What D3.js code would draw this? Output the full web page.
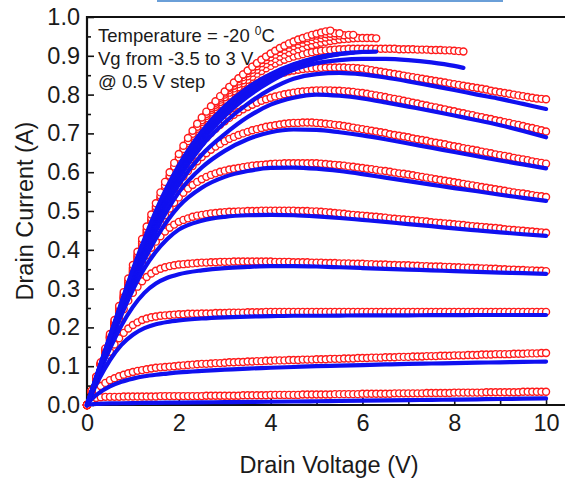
<!DOCTYPE html>
<html><head><meta charset="utf-8">
<script src="https://cdn.jsdelivr.net/npm/d3@7/dist/d3.min.js"></script>
<style>
html,body{margin:0;padding:0;background:#fff;}
svg{display:block;}
text{font-family:"Liberation Sans",Arial,Helvetica,sans-serif;fill:#1a1a1a;}
</style></head><body>
<svg id="chart" width="565" height="478"></svg>
<script>
// ---------------- DATA ----------------
// Gate voltages (V), lowest to highest
const vgValues = [-3.5,-3,-2.5,-2,-1.5,-1,-0.5,0,0.5,1,1.5,2,2.5,3];
// Measured sweep: drain voltage from 0 V in 0.1 V steps; drain current in mA
const VD_STEP = 0.1;
const measVgM3_5 = [0,12,18,20,21,21,21,21,22,22,22,
22,22,22,22,22,23,23,23,23,23,
23,23,23,23,23,24,24,24,24,24,
24,24,24,25,25,25,25,25,25,26,
26,26,26,26,26,26,27,27,27,27,
27,27,27,28,28,28,28,28,28,29,
29,29,29,29,29,29,30,30,30,30,
30,30,30,31,31,31,31,31,31,32,
32,32,32,32,32,32,33,33,33,33,
33,33,33,33,34,34,34,34,34,34];
const measVgM3 = [0,22,38,49,57,64,69,74,78,82,85,
88,90,92,94,96,97,98,99,100,101,
102,103,104,105,106,106,107,108,108,109,
110,110,111,111,112,112,113,113,114,114,
115,115,115,116,116,116,117,117,117,118,
118,118,119,119,119,120,120,120,121,121,
121,122,122,122,123,123,123,124,124,124,
125,125,125,126,126,126,127,127,127,128,
128,128,129,129,129,130,130,130,131,131,
131,131,132,132,132,133,133,133,134,134];
const measVgM2_5 = [0,32,62,90,115,137,156,172,186,197,206,
213,219,223,226,228,230,231,232,233,234,
234,235,235,235,236,236,236,237,237,237,
238,238,238,238,239,239,239,239,240,240,
240,240,240,240,240,240,240,240,240,240,
240,240,240,240,240,240,240,240,240,240,
240,240,240,240,240,240,240,240,240,240,
240,240,240,240,240,240,240,240,240,240,
240,240,240,240,240,240,240,240,240,240,
240,240,240,240,240,240,240,240,240,240];
const measVgM2 = [0,34,68,101,133,165,195,222,247,269,289,
305,319,330,339,346,351,355,358,360,362,
363,364,365,366,367,367,368,368,369,369,
369,370,370,370,370,370,370,370,370,370,
369,369,369,369,368,368,368,368,367,367,
367,366,366,366,365,365,365,364,364,364,
363,363,362,362,362,361,361,360,360,360,
359,359,358,358,357,357,357,356,356,355,
355,354,354,353,353,352,352,351,351,350,
350,349,349,348,348,347,347,346,346,345];
const measVgM1_5 = [0,34,68,102,135,167,199,230,260,288,315,
341,365,386,405,421,435,447,457,465,472,
477,481,485,488,490,492,494,495,496,497,
498,498,499,499,500,500,500,501,501,501,
501,501,501,501,501,500,500,500,499,499,
498,497,496,495,494,493,491,490,489,488,
487,486,485,484,483,481,480,479,478,477,
476,475,474,473,471,470,469,468,467,466,
465,464,462,461,460,459,458,457,456,455,
453,452,451,450,449,448,447,446,445,444];
const measVgM1 = [0,34,69,103,137,170,202,234,265,295,324,
352,379,404,428,450,470,489,506,521,535,
547,558,567,575,582,588,593,597,601,604,
607,609,611,613,615,617,618,619,620,621,
622,622,623,623,623,623,623,623,623,623,
622,621,620,619,618,617,615,614,612,611,
609,608,606,604,603,601,599,597,596,594,
592,590,588,586,584,582,580,578,576,574,
572,570,568,566,564,562,560,558,556,554,
552,550,548,546,545,543,541,539,538,536];
const measVgM0_5 = [0,35,69,104,138,172,205,238,270,302,333,
363,392,420,447,472,495,517,537,556,573,
589,603,616,628,639,649,658,666,673,680,
686,691,696,700,704,708,711,714,717,719,
721,723,725,726,727,727,728,728,728,727,
726,725,724,722,721,719,717,715,713,711,
709,707,705,703,701,698,696,694,692,690,
687,685,683,681,678,676,674,672,669,667,
665,662,660,658,656,653,651,649,646,644,
642,640,637,635,633,631,628,626,624,622];
const measVg0 = [0,35,70,105,139,173,207,240,273,305,337,
368,398,427,455,482,507,531,554,575,595,
614,631,647,662,676,689,701,712,722,731,
740,748,755,762,768,774,779,784,788,792,
795,798,801,803,805,807,808,809,810,811,
811,811,811,810,810,809,808,807,805,804,
802,800,798,796,794,791,789,787,784,782,
779,777,774,772,769,767,764,762,759,757,
754,752,749,747,744,742,739,737,734,732,
729,727,724,722,719,716,714,711,708,705];
const measVgP0_5 = [0,35,70,105,140,174,208,242,275,308,340,
372,403,433,462,490,517,542,566,589,610,
630,649,667,684,700,715,729,742,754,766,
777,787,797,806,814,822,829,835,841,846,
850,854,857,860,862,864,866,867,868,869,
869,870,870,870,870,870,869,869,868,867,
865,863,861,859,857,855,853,851,849,847,
845,843,841,839,837,835,833,831,829,827,
825,823,821,819,817,815,813,810,808,806,
804,802,800,798,796,794,792,790,789,788];
const measVgP1 = [0,35,70,105,140,175,209,243,277,310,343,
375,407,438,468,497,525,551,576,600,622,
643,663,682,700,717,733,748,762,775,787,
798,809,819,829,838,846,854,861,868,874,
880,885,890,894,898,901,904,907,909,911,
913,914,915,916,917,917,918,918,918,918,
918,918,918,918,918,918,918,917,917,917,
917,916,916,916,915,915,915,914,914,913,
912,911];
const measVgP1_5 = [0,35,71,106,141,176,211,245,279,313,346,
379,411,442,472,501,529,556,581,605,628,
649,669,688,706,723,739,754,768,781,793,
805,816,827,837,847,856,864,872,879,886,
892,898,903,908,913,917,921,925,928,931,
934,936,938,940,942,943,944,945,946,946,
946,946,945];
const measVgP2 = [0,36,71,107,142,178,213,248,282,316,350,
383,416,447,477,506,534,561,586,610,633,
654,675,694,712,729,745,760,774,787,800,
812,823,834,845,855,864,873,881,889,896,
903,909,915,920,925,929,933,937,940,943,
945,947,949,951,952,953,954,954];
const measVgP2_5 = [0,36,72,108,144,180,216,251,286,320,354,
388,421,452,482,511,539,566,591,615,638,
660,680,699,717,734,750,765,779,792,805,
817,829,840,851,861,871,880,889,897,905,
912,918,924,929,934,938,942,946,949,952,
954,956,957,958,958];
const measVgP3 = [0,37,73,110,146,183,219,255,291,326,361,
395,428,460,491,520,548,575,600,624,647,
668,688,707,725,741,756,770,783,796,808,
820,831,842,852,862,872,881,890,898,906,
913,920,926,932,937,942,946,950,954,957,
960,963,965];
const measuredSeries = [measVgM3_5,measVgM3,measVgM2_5,measVgM2,measVgM1_5,measVgM1,
  measVgM0_5,measVg0,measVgP0_5,measVgP1,measVgP1_5,measVgP2,measVgP2_5,measVgP3];

// Model (simulation) curves: drain voltage (V) and drain current (mA)
const modelVdFull = [0,0.1,0.25,0.5,0.75,1,1.25,1.5,1.75,2,2.5,3,3.5,4,4.5,5,5.5,6,6.5,7,7.5,8,8.5,9,9.5,10];
const modelVgM3_5 = [0,2,3,4,4.5,5,5.3,5.6,5.9,6.2,6.8,7.3,7.8,8.4,9,9.7,10.4,11.1,11.8,12.5,13.2,13.9,14.7,15.5,16.2,17];
const modelVgM3 = [0,15,30,48,60,68,74,78,81,84,88,91,94,96,98,100,101.5,103,104.5,106,107,108,109,110,111,112];
const modelVgM2_5 = [0,27,64,116,155,181,198,208,214,218,223,226,228,229,230,230,230.5,231,231,231,231.5,231.5,232,232,232,232];
const modelVgM2 = [0,31,76,145,205,253,289,313,328,337,347,353,356,358,358,357,355,353,351,349,347,345,343,341,340,338];
const modelVgM1_5 = [0,33,80,158,232,297,352,395,428,452,475,485,489,490,489,486,482,477,472,466,461,455,450,445,440,436];
const modelVgM1 = [0,33,82,163,240,310,374,429,475,512,560,588,603,611,612,609,603,595,586,577,568,559,551,542,534,526];
const modelVgM0_5 = [0,34,84,166,245,318,386,448,502,548,612,655,685,703,710,709,703,695,685,674,663,652,641,630,620,610];
const modelVg0 = [0,34,85,168,248,324,394,460,518,568,645,698,742,774,792,800,797,790,780,769,758,746,734,721,706,690];
const modelVgP0_5 = [0,34,86,170,252,329,402,470,530,584,668,728,776,814,841,853,856,852,844,834,823,812,800,789,776,763];
const modelVdP1 = [0,0.1,0.25,0.5,0.75,1,1.25,1.5,1.75,2,2.5,3,3.5,4,4.5,5,5.5,6,6.5,7,7.5,8,8.2];
const modelVgP1 = [0,35,87,172,255,334,408,477,538,593,680,745,795,834,864,881,889,892,892,889,883,874,869];
const modelVdP1_5 = [0,0.1,0.25,0.5,0.75,1,1.25,1.5,1.75,2,2.5,3,3.5,4,4.5,5,5.5,6,6.3];
const modelVgP1_5 = [0,35,88,174,258,338,413,483,545,600,688,754,805,843,872,892,904,910,911];
const modelVdP2 = [0,0.1,0.25,0.5,0.75,1,1.25,1.5,1.75,2,2.5,3,3.5,4,4.5,5,5.5,5.8];
const modelVgP2 = [0,36,89,175,260,342,418,488,551,606,694,760,810,847,875,894,905,908];
const modelVdP2_5 = [0,0.1,0.25,0.5,0.75,1,1.25,1.5,1.75,2,2.5,3,3.5,4,4.5,5,5.5];
const modelVgP2_5 = [0,36,89,177,263,346,423,494,557,612,700,765,814,850,877,895,905];
const modelVdP3 = [0,0.1,0.25,0.5,0.75,1,1.25,1.5,1.75,2,2.5,3,3.5,4,4.5,5,5.3];
const modelVgP3 = [0,36,90,178,265,350,428,500,563,618,705,770,818,853,878,895,902];
const modelSeries = [
  [modelVdFull,modelVgM3_5],[modelVdFull,modelVgM3],[modelVdFull,modelVgM2_5],[modelVdFull,modelVgM2],
  [modelVdFull,modelVgM1_5],[modelVdFull,modelVgM1],[modelVdFull,modelVgM0_5],[modelVdFull,modelVg0],
  [modelVdFull,modelVgP0_5],[modelVdP1,modelVgP1],[modelVdP1_5,modelVgP1_5],[modelVdP2,modelVgP2],
  [modelVdP2_5,modelVgP2_5],[modelVdP3,modelVgP3]];

// Axis ticks
const xMajorTicks = [0,2,4,6,8,10];
const xMinorTicks = [1,3,5,7,9];
const yMajorTicks = [0,0.1,0.2,0.3,0.4,0.5,0.6,0.7,0.8,0.9,1.0];
const yMinorTicks = [0.05,0.15,0.25,0.35,0.45,0.55,0.65,0.75,0.85,0.95];
const annotationLines = ["Temperature = -20 ", "Vg from -3.5 to 3 V", "@ 0.5 V step"];
const xTitle = "Drain Voltage (V)";
const yTitle = "Drain Current (A)";

// ---------------- DRAW ----------------
const svg = d3.select("#chart");
svg.append("rect").attr("width",565).attr("height",478).attr("fill","#fff");
// thin blue strip at the very top of the picture
svg.append("rect").attr("x",157).attr("y",0).attr("width",346).attr("height",2).attr("fill","#6a9fd8");

const L = 87, R = 569, T = 17, B = 405;
const x = d3.scaleLinear().domain([0,10.5]).range([L,R]);
const y = d3.scaleLinear().domain([0,1]).range([B,T]);

const fontTick = 23.5;
// x axis
const gx = svg.append("g").attr("transform",`translate(0,${B})`)
  .call(d3.axisBottom(x).tickValues(xMajorTicks).tickFormat(d3.format("d"))
    .tickSizeInner(-7).tickSizeOuter(0).tickPadding(9));
gx.select(".domain").remove();
gx.selectAll("text").attr("font-size",fontTick).attr("fill","#1a1a1a");
gx.selectAll("line").attr("stroke","#111").attr("stroke-width",1.6);
const gx2 = svg.append("g").attr("transform",`translate(0,${B})`)
  .call(d3.axisBottom(x).tickValues(xMinorTicks).tickFormat("").tickSizeInner(-4).tickSizeOuter(0));
gx2.select(".domain").remove();
gx2.selectAll("line").attr("stroke","#111").attr("stroke-width",1.6);

// y axis
const gy = svg.append("g").attr("transform",`translate(${L},0)`)
  .call(d3.axisLeft(y).tickValues(yMajorTicks).tickFormat(d3.format(".1f"))
    .tickSizeInner(-7).tickSizeOuter(0).tickPadding(7));
gy.select(".domain").remove();
gy.selectAll("text").attr("font-size",fontTick).attr("fill","#1a1a1a");
gy.selectAll("line").attr("stroke","#111").attr("stroke-width",1.6);
const gy2 = svg.append("g").attr("transform",`translate(${L},0)`)
  .call(d3.axisLeft(y).tickValues(yMinorTicks).tickFormat("").tickSizeInner(-4).tickSizeOuter(0));
gy2.select(".domain").remove();
gy2.selectAll("line").attr("stroke","#111").attr("stroke-width",1.6);

// frame
svg.append("path").attr("d",`M${R},${T}H${L}V${B}H${R}`)
  .attr("fill","none").attr("stroke","#111").attr("stroke-width",2.2);

// titles
svg.append("text").attr("x",329).attr("y",473).attr("text-anchor","middle")
  .attr("font-size",23.5).text(xTitle);
svg.append("text").attr("transform",`translate(33,${(T+B)/2}) rotate(-90)`)
  .attr("text-anchor","middle").attr("font-size",23.5).text(yTitle);

// annotation
const ann = svg.append("g").attr("font-size",18.5);
const t1 = ann.append("text").attr("x",98).attr("y",42);
t1.append("tspan").text(annotationLines[0]);
t1.append("tspan").attr("font-size",12).attr("dy",-7.5).text("0");
t1.append("tspan").attr("dy",7.5).text("C");
ann.append("text").attr("x",98).attr("y",65).text(annotationLines[1]);
ann.append("text").attr("x",98).attr("y",88).text(annotationLines[2]);

// measured: red open circles
const gm = svg.append("g");
measuredSeries.forEach(arr => {
  gm.append("g").selectAll("circle").data(arr).join("circle")
    .attr("cx",(d,i)=>x(i*VD_STEP)).attr("cy",d=>y(d/1000)).attr("r",3.5)
    .attr("fill","#fff").attr("stroke","#ff1a1a").attr("stroke-width",1.4);
});

// model: blue lines
const line = d3.line().x(d=>x(d[0])).y(d=>y(d[1]/1000)).curve(d3.curveMonotoneX);
const gl = svg.append("g");
modelSeries.forEach(([vd,id]) => {
  gl.append("path").attr("d",line(vd.map((v,i)=>[v,id[i]])))
    .attr("fill","none").attr("stroke","#1010f0").attr("stroke-width",4.2)
    .attr("stroke-linecap","round").attr("stroke-linejoin","round");
});
</script>
</body></html>
